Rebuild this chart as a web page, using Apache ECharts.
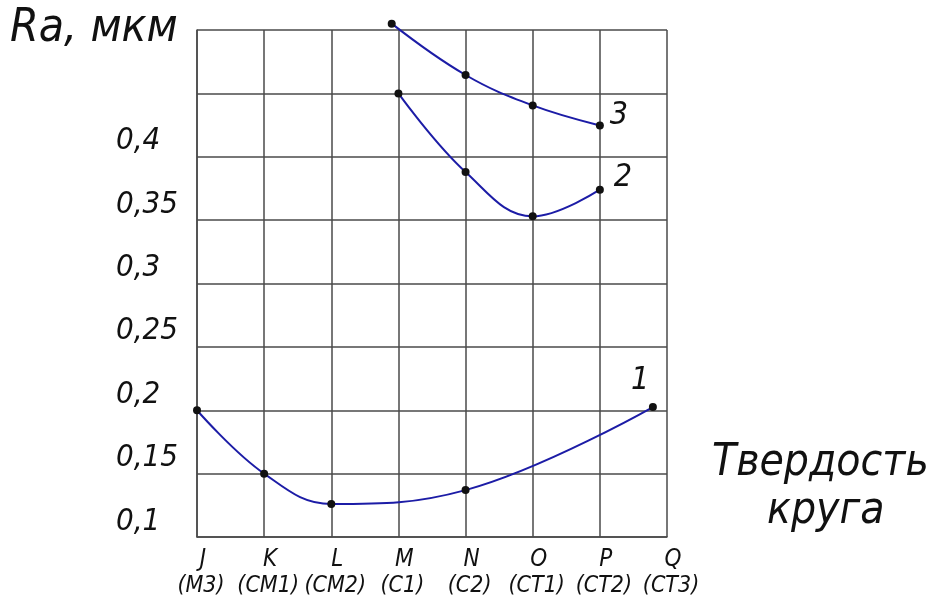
<!DOCTYPE html>
<html lang="ru">
  <head>
    <meta charset="UTF-8" />
    <title>Ra от твердости круга</title>
    <script src="https://cdn.jsdelivr.net/npm/echarts@6/dist/echarts.min.js"></script>
    <style>
      html, body { margin: 0; padding: 0; background: #fff; }
      #chart { width: 941px; height: 608px; }
    </style>
  </head>
  <body>
    <div id="chart"></div>
    <script>
      // твердость круга: буква и обозначение ГОСТ
      var hardness = ["J", "K", "L", "M", "N", "O", "P", "Q"];
      var hardnessRu = ["(М3)", "(СМ1)", "(СМ2)", "(С1)", "(С2)", "(СТ1)", "(СТ2)", "(СТ3)"];
      var yTicks = [0.1, 0.15, 0.2, 0.25, 0.3, 0.35, 0.4];

      // кривая 1
      var x1 = [0, 1, 2, 4, 6.79];
      var ra1 = [0.2, 0.15, 0.126, 0.137, 0.2025];
      // кривая 2
      var x2 = [3, 4, 5, 6];
      var ra2 = [0.45, 0.388, 0.353, 0.374];
      // кривая 3
      var x3 = [2.9, 4, 5, 6];
      var ra3 = [0.505, 0.4645, 0.4405, 0.4247];

      var font = "'DejaVu Sans Condensed', 'Roboto Condensed', Roboto, sans-serif";
      var lineColor = "#1c1ca6";
      var gridColor = "#4a4a4a";

      function pairs(xs, ys) {
        return xs.map(function (x, i) { return [x, ys[i]]; });
      }

      function curve(name, xs, ys, offset) {
        return {
          name: name,
          type: "line",
          data: pairs(xs, ys),
          smooth: 0.4,
          clip: false,
          symbol: "circle",
          symbolSize: 8,
          itemStyle: { color: "#111" },
          lineStyle: { color: lineColor, width: 2 },
          endLabel: {
            show: true,
            formatter: name,
            offset: offset,
            fontFamily: font,
            fontStyle: "italic",
            fontSize: 32,
            color: "#111"
          },
          z: 3
        };
      }

      var chart = echarts.init(document.getElementById("chart"));
      var option = {
        animation: false,
        backgroundColor: "#fff",
        grid: { left: 197, right: 274, top: 30, bottom: 71 },
        xAxis: {
          type: "value",
          min: 0,
          max: 7,
          interval: 1,
          axisLine: { show: true, lineStyle: { color: gridColor, width: 1.5 } },
          axisTick: { show: false },
          splitLine: { show: true, lineStyle: { color: gridColor, width: 1.5 } },
          axisLabel: {
            margin: 10,
            formatter: function (v) {
              var i = Math.round(v);
              return "{a|" + hardness[i] + "}\n{b|" + hardnessRu[i] + "}";
            },
            rich: {
              a: { fontFamily: font, fontStyle: "italic", fontSize: 24, color: "#111", lineHeight: 26, padding: [0, 0, 0, 12] },
              b: { fontFamily: font, fontStyle: "italic", fontSize: 23, color: "#111", lineHeight: 26, padding: [0, 0, 0, 8] }
            }
          }
        },
        yAxis: {
          type: "value",
          min: 0.1,
          max: 0.5,
          interval: 0.05,
          axisLine: { show: true, lineStyle: { color: gridColor, width: 1.5 } },
          axisTick: { show: false },
          splitLine: { show: true, lineStyle: { color: gridColor, width: 1.5 } },
          axisLabel: {
            margin: 81,
            align: "left",
            verticalAlign: "bottom",
            padding: [0, 0, 0, 0],
            fontFamily: font,
            fontStyle: "italic",
            fontSize: 31,
            color: "#111",
            formatter: function (v) {
              var t = yTicks.find(function (y) { return Math.abs(y - v) < 1e-6; });
              return t === undefined ? "" : String(t).replace(".", ",");
            }
          }
        },
        graphic: [
          {
            type: "text", left: 10, top: 6,
            style: { text: "Ra, мкм", font: "italic 46px " + font, fill: "#111" }
          },
          {
            type: "text", left: 712, top: 442,
            style: { text: "Твердость", font: "italic 44px " + font, fill: "#111" }
          },
          {
            type: "text", left: 767, top: 490,
            style: { text: "круга", font: "italic 44px " + font, fill: "#111" }
          }
        ],
        series: [
          curve("1", x1, ra1, [-30, -26]),
          curve("2", x2, ra2, [6, -12]),
          curve("3", x3, ra3, [2, -10])
        ]
      };
      chart.setOption(option);
    </script>
  </body>
</html>
